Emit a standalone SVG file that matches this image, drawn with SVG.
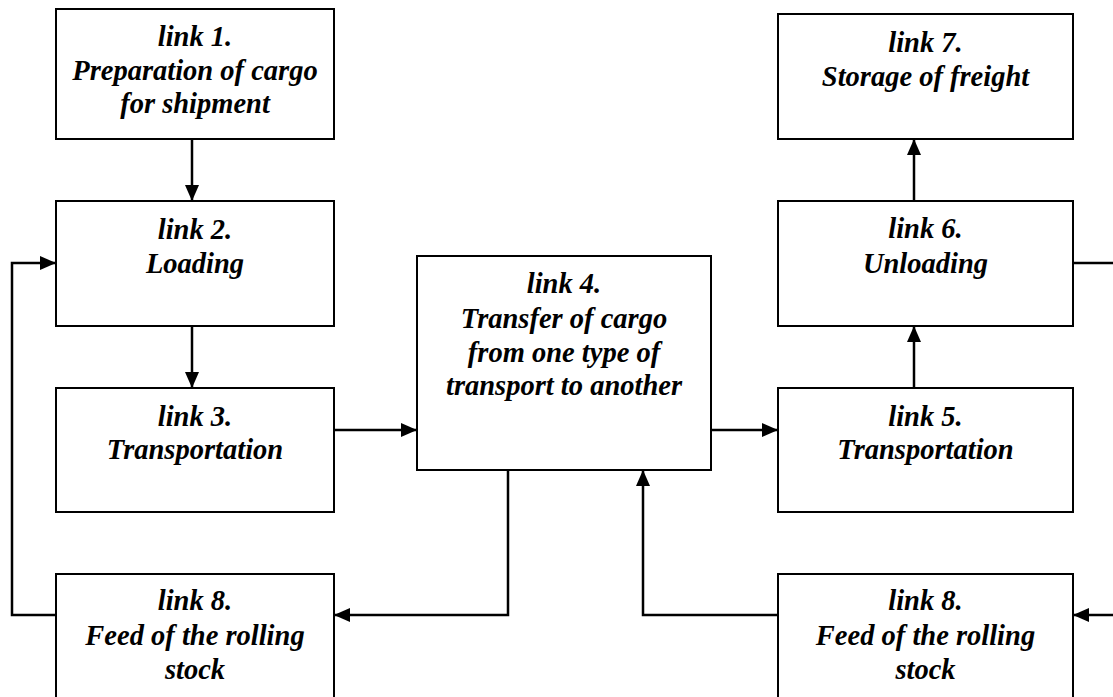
<svg xmlns="http://www.w3.org/2000/svg" width="1113" height="697" viewBox="0 0 1113 697">
<style>
.box{fill:#fff;stroke:#000;stroke-width:2}
.t{font-family:"Liberation Serif","Times New Roman",serif;font-size:28.5px;font-weight:bold;font-style:italic;text-anchor:middle;fill:#000}
.c{fill:none;stroke:#000;stroke-width:2.5}
</style>
<defs>
<marker id="ah" markerUnits="userSpaceOnUse" markerWidth="16" markerHeight="14" viewBox="0 0 16 14" refX="16" refY="7" orient="auto">
<path d="M0,0 L16,7 L0,14 z" fill="#000"/>
</marker>
</defs>
<rect width="1113" height="697" fill="#fff"/>
<g id="connectors">
<path class="c" d="M192,139 V201" marker-end="url(#ah)"/>
<path class="c" d="M192,326 V388" marker-end="url(#ah)"/>
<path class="c" d="M334,430 H417" marker-end="url(#ah)"/>
<path class="c" d="M711,430 H778" marker-end="url(#ah)"/>
<path class="c" d="M914,388 V326" marker-end="url(#ah)"/>
<path class="c" d="M914,201 V139" marker-end="url(#ah)"/>
<path class="c" d="M1073,263 H1113"/>
<path class="c" d="M1113,615 H1073" marker-end="url(#ah)"/>
<path class="c" d="M56,615 H12 V263 H56" marker-end="url(#ah)"/>
<path class="c" d="M508,470 V615 H334" marker-end="url(#ah)"/>
<path class="c" d="M778,615 H643 V470" marker-end="url(#ah)"/>
</g>
<g id="link1">
<rect class="box" x="56" y="9" width="278" height="130"/>
<text class="t" x="195" y="46">link 1.</text>
<text class="t" x="195" y="79.5">Preparation of cargo</text>
<text class="t" x="195" y="113">for shipment</text>
</g>
<g id="link2">
<rect class="box" x="56" y="201" width="278" height="125"/>
<text class="t" x="195" y="239">link 2.</text>
<text class="t" x="195" y="273">Loading</text>
</g>
<g id="link3">
<rect class="box" x="56" y="388" width="278" height="124"/>
<text class="t" x="195" y="426">link 3.</text>
<text class="t" x="195" y="459">Transportation</text>
</g>
<g id="link4">
<rect class="box" x="417" y="256" width="294" height="214"/>
<text class="t" x="564" y="293">link 4.</text>
<text class="t" x="564" y="328">Transfer of cargo</text>
<text class="t" x="564" y="362">from one type of</text>
<text class="t" x="564" y="395">transport to another</text>
</g>
<g id="link5">
<rect class="box" x="778" y="388" width="295" height="124"/>
<text class="t" x="925.5" y="426">link 5.</text>
<text class="t" x="925.5" y="459">Transportation</text>
</g>
<g id="link6">
<rect class="box" x="778" y="201" width="295" height="125"/>
<text class="t" x="925.5" y="238">link 6.</text>
<text class="t" x="925.5" y="273">Unloading</text>
</g>
<g id="link7">
<rect class="box" x="778" y="14" width="295" height="125"/>
<text class="t" x="925.5" y="52">link 7.</text>
<text class="t" x="925.5" y="86">Storage of freight</text>
</g>
<g id="link8a">
<rect class="box" x="56" y="574" width="278" height="140"/>
<text class="t" x="195" y="610">link 8.</text>
<text class="t" x="195" y="645">Feed of the rolling</text>
<text class="t" x="195" y="679">stock</text>
</g>
<g id="link8b">
<rect class="box" x="778" y="574" width="295" height="140"/>
<text class="t" x="925.5" y="610">link 8.</text>
<text class="t" x="925.5" y="645">Feed of the rolling</text>
<text class="t" x="925.5" y="679">stock</text>
</g>
</svg>
